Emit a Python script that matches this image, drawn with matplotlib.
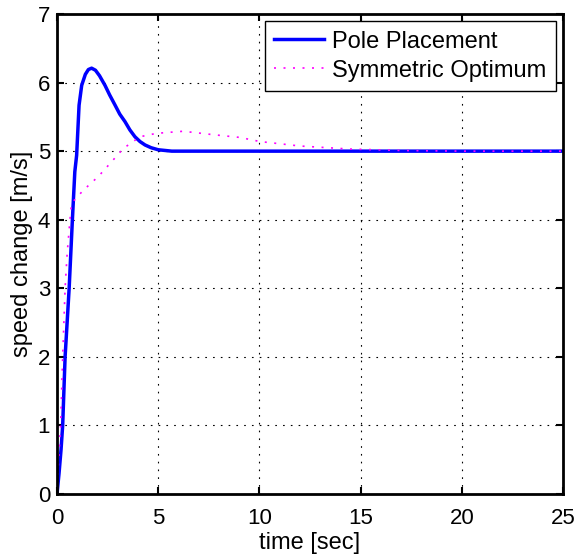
import numpy as np
import matplotlib
matplotlib.use("Agg")
import matplotlib.pyplot as plt

plt.rcParams['font.family'] = ['Liberation Sans', 'DejaVu Sans']

# Pole placement response
t_pp = [0, 0.1, 0.2, 0.28, 0.4, 0.5, 0.6, 0.76, 0.88, 0.97, 1.09, 1.22, 1.4, 1.55, 1.71,
        1.9, 2.1, 2.37, 2.6, 2.87, 3.1, 3.36, 3.6, 3.85, 4.1, 4.35, 4.65, 5.0, 5.67, 7.0, 10, 15, 20, 25]
y_pp = [0, 0.3, 0.65, 1.0, 2.0, 2.5, 3.0, 4.0, 4.7, 4.94, 5.67, 5.96, 6.12, 6.19, 6.21,
        6.18, 6.1, 5.96, 5.82, 5.67, 5.54, 5.43, 5.31, 5.21, 5.14, 5.09, 5.05, 5.02, 5.0, 5.0, 5.0, 5.0, 5.0, 5.0]

# Symmetric optimum response
t_so = [0, 0.08, 0.18, 0.28, 0.4, 0.5, 0.64, 0.72, 1.3, 2.04, 2.62, 3.28, 4.1, 4.92,
        6.24, 7.72, 9.04, 10.03, 12.0, 14.5, 17, 20, 25]
y_so = [0, 0.5, 1.0, 2.0, 3.0, 3.5, 4.0, 4.24, 4.43, 4.63, 4.82, 5.04, 5.21, 5.26,
        5.29, 5.24, 5.2, 5.14, 5.075, 5.03, 5.01, 5.0, 5.0]

fig = plt.figure(figsize=(5.77, 5.58), dpi=100)
ax = fig.add_axes([0.0988, 0.1147, 0.8769, 0.8602])

ax.plot(t_pp, y_pp, color='#0000ff', linewidth=2.5, label='Pole Placement')
ax.plot(t_so, y_so, color='#ff00ff', linewidth=1.2, linestyle=(0, (1.2, 4.5)),
        label='Symmetric Optimum')

ax.set_xlim(0, 25)
ax.set_ylim(0, 7)
ax.set_xticks([0, 5, 10, 15, 20, 25])
ax.set_yticks(range(0, 8))
ax.grid(True, color='black', linestyle=(0, (1.5, 5.5)), linewidth=0.8)
ax.tick_params(direction='in', top=True, right=True, labelsize=16, length=5, width=1.5)
ax.tick_params(axis='x', pad=10)
ax.tick_params(axis='y', pad=5)
for s in ax.spines.values():
    s.set_linewidth(2.0)

ax.set_xlabel('time [sec]', fontsize=17, labelpad=2)
ax.set_ylabel('speed change [m/s]', fontsize=17, labelpad=3)

leg = ax.legend(loc='upper right', fontsize=17, fancybox=False, framealpha=1,
                edgecolor='black', handlelength=2.1, handletextpad=0.35,
                borderaxespad=0.3, borderpad=0.4, labelspacing=0.3)
leg.get_frame().set_linewidth(1)

fig.savefig('out.png', dpi=100)
